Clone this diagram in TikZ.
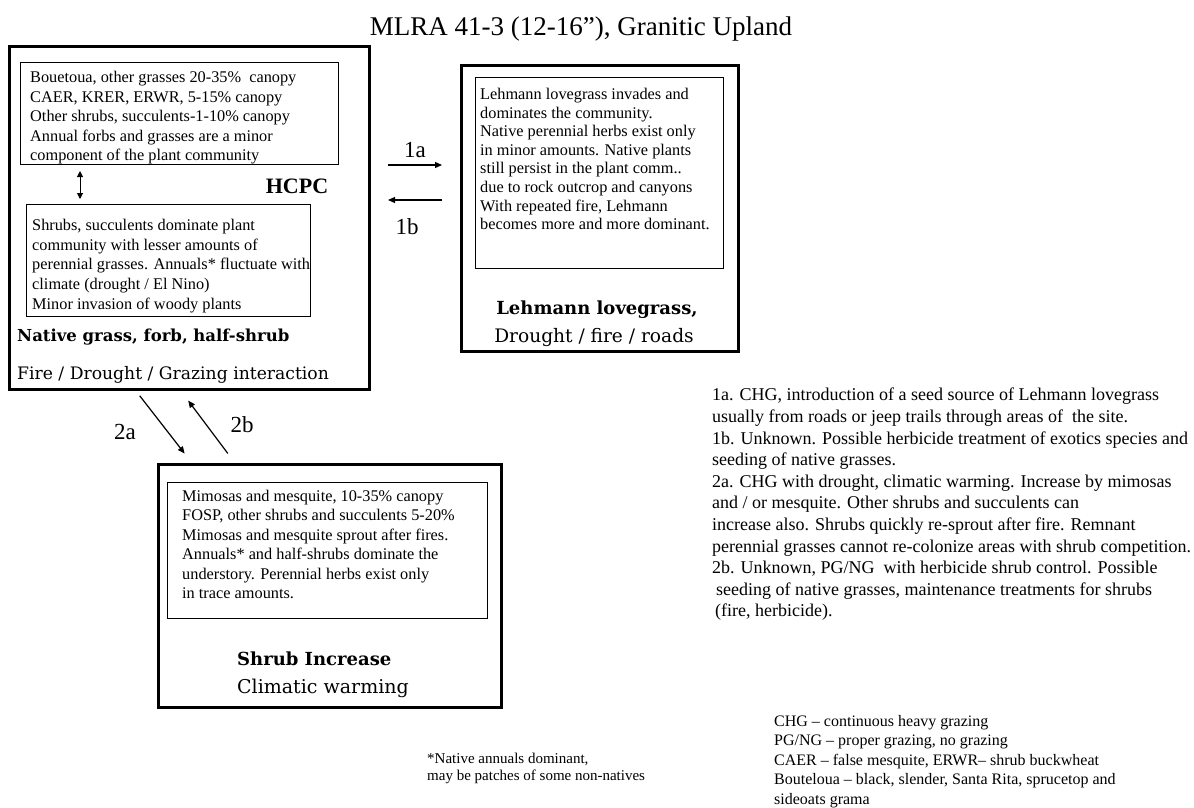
\documentclass[tikz,border=0pt]{standalone}
\usepackage{fontspec}
\setmainfont{Liberation Serif}
\newfontfamily\capfont{DejaVu Serif}
\usetikzlibrary{positioning,arrows.meta}

\begin{document}
\begin{tikzpicture}[x=1pt,y=-1pt,
    outbox/.style={draw,line width=3pt,anchor=north west,inner sep=0pt},
    inbox/.style={draw,line width=1pt,anchor=north west,inner sep=0pt},
    txt/.style={inner sep=0pt,align=left,anchor=north west,font=\fontsize{16.3}{19.5}\selectfont},
    stcap/.style={inner sep=0pt,anchor=base,font=\capfont\fontsize{18.6}{22}\selectfont},
    stbold/.style={inner sep=0pt,anchor=base,font=\capfont\bfseries\fontsize{18}{22}\selectfont},
    lbl/.style={inner sep=0pt,anchor=base,font=\fontsize{23}{26}\selectfont},
    f/.style={-{Triangle[length=7pt,width=6pt]},line width=1.2pt}]
  \useasboundingbox[fill=white] (0,0) rectangle (1194,807);
  \node[anchor=base,inner sep=0pt,font=\fontsize{27}{32}\selectfont] (title) at (581,35)
    {MLRA 41-3 (12-16”), Granitic Upland};
  % state 1: native grass
  \node[outbox,minimum width=360pt,minimum height=343pt] (nat) at (8,45) {};
  \node[inbox,minimum width=318pt,minimum height=102pt,below right=17pt and 12pt of nat.north west] (b1) {};
  \node[txt,below right=9pt and 10pt of b1.north west] (b1t)
    {Bouetoua, other grasses 20-35\%~ canopy\\CAER, KRER, ERWR, 5-15\% canopy\\Other shrubs, succulents-1-10\% canopy\\Annual forbs and grasses are a minor\\component of the plant community};
  \node[inbox,minimum width=284pt,minimum height=112pt,below right=39pt and 6pt of b1.south west] (b2) {};
  \node[txt,below right=15pt and 6pt of b2.north west,font=\fontsize{16.3}{19.7}\selectfont] (b2t)
    {Shrubs, succulents dominate plant\\community with lesser amounts of\\perennial grasses. Annuals* fluctuate with\\climate (drought / El Nino)\\Minor invasion of woody plants};
  \node[anchor=base,inner sep=0pt,font=\bfseries\fontsize{22}{26}\selectfont] (hcpc) at (297,193) {HCPC};
  \draw[{Triangle[length=6pt,width=6pt]}-{Triangle[length=6pt,width=6pt]},line width=1pt,
    shorten <=6pt,shorten >=5pt] (b1.south -| 80,0) -- (b2.north -| 80,0);
  \node[stbold,anchor=base west,font=\capfont\bfseries\fontsize{16.5}{20}\selectfont] (natc) at (17,341)
    {Native grass, forb, half-shrub};
  \node[stcap,anchor=base west,font=\capfont\fontsize{17.2}{20}\selectfont] (natd) at (17,379)
    {Fire / Drought / Grazing interaction};
  % state 2: Lehmann lovegrass
  \node[outbox,minimum width=277pt,minimum height=286pt] (leh) at (460,64) {};
  \node[inbox,minimum width=248pt,minimum height=191pt,below right=13pt and 15pt of leh.north west] (lin) {};
  \node[txt,below right=11pt and 5pt of lin.north west,font=\fontsize{16.3}{18.6}\selectfont] (lint)
    {Lehmann lovegrass invades and\\dominates the community.\\Native perennial herbs exist only\\in minor amounts. Native plants\\still persist in the plant comm..\\due to rock outcrop and canyons\\With repeated fire, Lehmann\\becomes more and more dominant.};
  \node[stbold] (lehc) at (597,314) {Lehmann lovegrass,};
  \node[stcap] (lehd) at (594,342) {Drought / fire / roads};
  % state 3: shrub increase
  \node[outbox,minimum width=343pt,minimum height=243pt] (shr) at (157,463) {};
  \node[inbox,minimum width=320pt,minimum height=136pt,below right=19pt and 10pt of shr.north west] (sin) {};
  \node[txt,below right=8pt and 15pt of sin.north west,font=\fontsize{16.3}{19.4}\selectfont] (sint)
    {Mimosas and mesquite, 10-35\% canopy\\FOSP, other shrubs and succulents 5-20\%\\Mimosas and mesquite sprout after fires.\\Annuals* and half-shrubs dominate the\\understory. Perennial herbs exist only\\in trace amounts.};
  \node[stbold,anchor=base west] (shrc) at (237,665) {Shrub Increase};
  \node[stcap,anchor=base west,font=\capfont\fontsize{19}{22}\selectfont] (shrd) at (237,693) {Climatic warming};
  % transitions
  \draw[f,shorten <=17pt,shorten >=18pt] (nat.east |- 0,165) -- (leh.west |- 0,165);
  \draw[f,shorten <=18pt,shorten >=17pt] (leh.west |- 0,200) -- (nat.east |- 0,200);
  \draw[f,shorten <=6pt,shorten >=12pt] (nat.south -| 136,0) -- (shr.north -| 192,0);
  \draw[f,shorten <=12pt,shorten >=12pt] (shr.north -| 235,0) -- (nat.south -| 181,0);
  \node[lbl] (l1a) at (415,157) {1a};
  \node[lbl] (l1b) at (407,234) {1b};
  \node[lbl] (l2a) at (125,439) {2a};
  \node[lbl] (l2b) at (242,432) {2b};
  % notes
  \node[txt,font=\fontsize{18}{21.6}\selectfont] (notes) at (712,388)
    {1a. CHG, introduction of a seed source of Lehmann lovegrass\\usually from roads or jeep trails through areas of~ the site.\\1b. Unknown. Possible herbicide treatment of exotics species and\\seeding of native grasses.\\2a. CHG with drought, climatic warming. Increase by mimosas\\and / or mesquite. Other shrubs and succulents can\\increase also. Shrubs quickly re-sprout after fire. Remnant\\perennial grasses cannot re-colonize areas with shrub competition.\\2b. Unknown, PG/NG~ with herbicide shrub control. Possible\\\hspace{4pt}seeding of native grasses, maintenance treatments for shrubs\\\hspace{3pt}(fire, herbicide).};
  \node[txt,font=\fontsize{15}{17}\selectfont] (foot) at (427,753)
    {*Native annuals dominant,\\may be patches of some non-natives};
  \node[txt,font=\fontsize{16}{19.5}\selectfont] (legend) at (774,715)
    {CHG – continuous heavy grazing\\PG/NG – proper grazing, no grazing\\CAER – false mesquite, ERWR– shrub buckwheat\\Bouteloua – black, slender, Santa Rita, sprucetop and\\sideoats grama};
\end{tikzpicture}
\end{document}
